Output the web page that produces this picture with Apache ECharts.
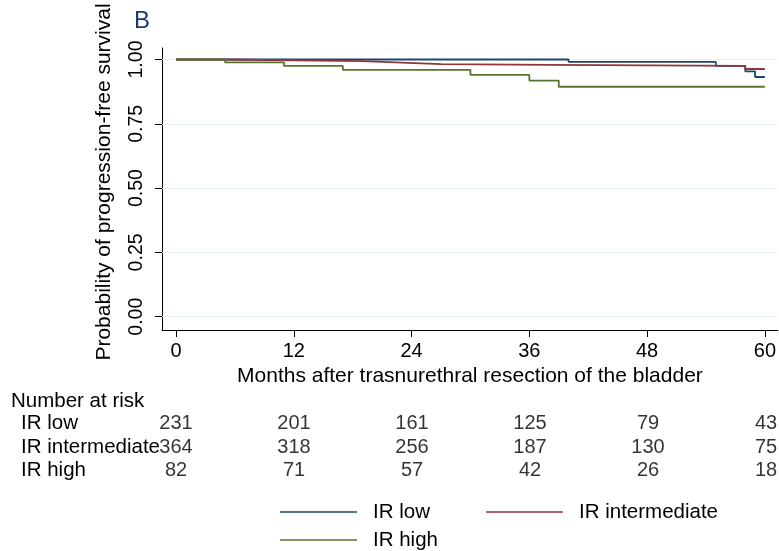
<!DOCTYPE html>
<html>
<head>
<meta charset="utf-8">
<script src="https://cdn.jsdelivr.net/npm/echarts@6/dist/echarts.min.js"></script>
<style>
  html, body { margin: 0; padding: 0; background: #fff; }
  #chart { width: 779px; height: 551px; }
</style>
</head>
<body>
<div id="chart"></div>
<script>
// ticks
var monthTicks = [0, 12, 24, 36, 48, 60];
var survTicks = [0, 0.25, 0.5, 0.75, 1];
var groupNames = ['IR low', 'IR intermediate', 'IR high'];

// number at risk at each month tick
var riskLow = [231, 201, 161, 125, 79, 43];
var riskInt = [364, 318, 256, 187, 130, 75];
var riskHigh = [82, 71, 57, 42, 26, 18];

// Kaplan-Meier steps (time of change, survival from there on)
var lowTimes = [0, 40, 55, 58, 59, 60];
var lowSurv = [1.0, 0.991, 0.975, 0.954, 0.932, 0.932];
var intTimes = [0, 5, 19, 23, 27, 38, 58, 60];
var intSurv = [1.0, 0.994, 0.988, 0.982, 0.979, 0.975, 0.963, 0.963];
var highTimes = [0, 5, 11, 17, 30, 36, 39, 60];
var highSurv = [1.0, 0.989, 0.975, 0.960, 0.940, 0.918, 0.894, 0.894];

var colors = ['#1a476f', '#90353b', '#55752f'];
var font = 'Liberation Sans, Arial, Helvetica, sans-serif';

function pairs(xs, ys) {
    return xs.map(function (x, i) { return [x, ys[i]]; });
}

var riskData = [];
[riskLow, riskInt, riskHigh].forEach(function (row, r) {
    row.forEach(function (n, i) {
        riskData.push([monthTicks[i], groupNames[r], n]);
    });
});

var chart = echarts.init(document.getElementById('chart'), null, { renderer: 'canvas' });

function kmSeries(name, data, color, withGrid) {
    var s = {
        name: name,
        type: 'line',
        step: 'end',
        data: data,
        symbol: 'none',
        xAxisIndex: 0,
        yAxisIndex: 0,
        lineStyle: { color: color, width: 1.8 },
        itemStyle: { color: color },
        animation: false,
        z: 3
    };
    if (withGrid) {
        s.markLine = {
            silent: true,
            symbol: 'none',
            z: 1,
            label: { show: false },
            lineStyle: { color: '#eaf2f3', width: 1.2, type: 'solid' },
            data: survTicks.map(function (v) { return { yAxis: v }; })
        };
    }
    return s;
}

var legendText = { color: '#000', fontSize: 20.5, lineHeight: 22, padding: [0, 0, 0, 11], fontFamily: font };

var option = {
    backgroundColor: '#fff',
    animation: false,
    textStyle: { fontFamily: font },
    grid: [
        { left: 162, right: 0, top: 48, height: 282 },
        { left: 162, right: 0, top: 412, height: 70 }
    ],
    xAxis: [
        {
            gridIndex: 0,
            type: 'value',
            min: -1.4237,
            max: 61.322,
            axisLine: { show: true, onZero: false, lineStyle: { color: '#000', width: 1 } },
            axisTick: { show: true, length: 7, customValues: monthTicks, lineStyle: { color: '#000' } },
            axisLabel: { customValues: monthTicks, color: '#000', fontSize: 20, margin: 11, fontFamily: font },
            splitLine: { show: false },
            name: 'Months after trasnurethral resection of the bladder',
            nameLocation: 'middle',
            nameGap: 36,
            nameTextStyle: { color: '#000', fontSize: 21, fontFamily: font }
        },
        {
            gridIndex: 1,
            type: 'value',
            min: -1.4237,
            max: 61.322,
            show: false
        }
    ],
    yAxis: [
        {
            gridIndex: 0,
            type: 'value',
            min: -0.0517,
            max: 1.0447,
            axisLine: { show: true, onZero: false, lineStyle: { color: '#000', width: 1 } },
            axisTick: { show: true, length: 7, customValues: survTicks, lineStyle: { color: '#000' } },
            axisLabel: {
                customValues: survTicks,
                rotate: 90,
                color: '#000',
                fontSize: 19.5,
                margin: 15,
                fontFamily: font,
                formatter: function (v) { return v.toFixed(2); }
            },
            splitLine: { show: false }
        },
        {
            gridIndex: 1,
            type: 'category',
            inverse: true,
            data: groupNames,
            axisLine: { show: false },
            axisTick: { show: false },
            axisLabel: { interval: 0, align: 'left', margin: 141, color: '#000', fontSize: 20.5, fontFamily: font }
        }
    ],
    legend: [
        {
            data: ['IR low'], left: 280, top: 501, padding: 0, selectedMode: false,
            icon: 'rect', itemWidth: 77, itemHeight: 1.4, textStyle: legendText
        },
        {
            data: ['IR intermediate'], left: 486, top: 501, padding: 0, selectedMode: false,
            icon: 'rect', itemWidth: 77, itemHeight: 1.4, textStyle: legendText
        },
        {
            data: ['IR high'], left: 280, top: 529, padding: 0, selectedMode: false,
            icon: 'rect', itemWidth: 77, itemHeight: 1.4, textStyle: legendText
        }
    ],
    graphic: [
        {
            type: 'text', x: 104, y: 182, rotation: Math.PI / 2,
            style: { text: 'Probability of progression-free survival', fill: '#000', font: '21px ' + font, align: 'center', verticalAlign: 'middle' }
        },
        {
            type: 'text', x: 134, y: 21,
            style: { text: 'B', fill: '#1f3b6e', font: '24px ' + font, align: 'left', verticalAlign: 'middle' }
        },
        {
            type: 'text', x: 11, y: 401,
            style: { text: 'Number at risk', fill: '#000', font: '20.5px ' + font, align: 'left', verticalAlign: 'middle' }
        }
    ],
    series: [
        kmSeries('IR low', pairs(lowTimes, lowSurv), colors[0], true),
        kmSeries('IR intermediate', pairs(intTimes, intSurv), colors[1], false),
        kmSeries('IR high', pairs(highTimes, highSurv), colors[2], false),
        {
            type: 'scatter',
            xAxisIndex: 1,
            yAxisIndex: 1,
            data: riskData,
            symbolSize: 1,
            itemStyle: { color: 'rgba(0,0,0,0)' },
            label: {
                show: true,
                position: 'inside',
                color: '#000',
                textBorderWidth: 0,
                fontSize: 20,
                fontFamily: font,
                formatter: function (p) { return String(p.value[2]); }
            },
            silent: true
        }
    ]
};

chart.setOption(option);
</script>
</body>
</html>
